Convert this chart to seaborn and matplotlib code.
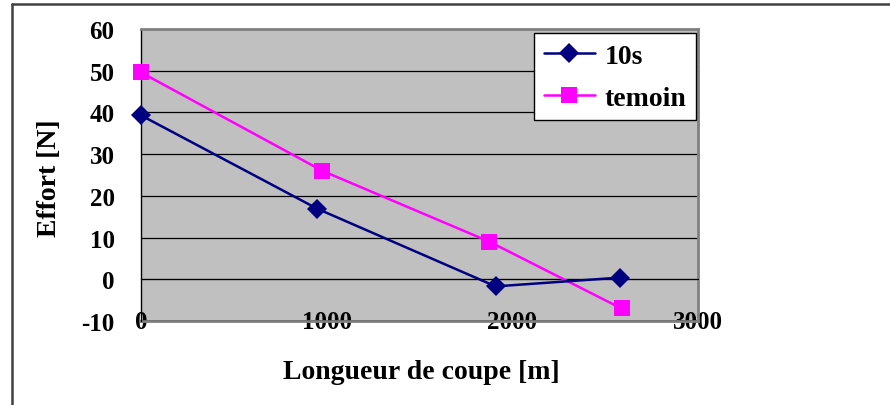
import matplotlib
matplotlib.use("Agg")
import matplotlib.pyplot as plt
import pandas as pd
import seaborn as sns
from matplotlib.lines import Line2D

# values
series_names = ["10s", "temoin"]
x_10s = [0, 950, 1910, 2578]
y_10s = [39.3, 16.9, -1.7, 0.4]
x_temoin = [0, 977, 1877, 2588]
y_temoin = [49.6, 26.0, 9.0, -7.0]
x_ticks = [0, 1000, 2000, 3000]
y_ticks = [-10, 0, 10, 20, 30, 40, 50, 60]

df = pd.concat([
    pd.DataFrame({"x": x_10s, "y": y_10s, "serie": "10s"}),
    pd.DataFrame({"x": x_temoin, "y": y_temoin, "serie": "temoin"}),
])

sns.set_style("white")
plt.rcParams["font.family"] = "Liberation Serif"
for k in ["text.color", "axes.labelcolor", "xtick.color", "ytick.color"]:
    plt.rcParams[k] = "black"
FONT = dict(family="Liberation Serif", weight="bold", color="black")

fig = plt.figure(figsize=(8.9, 4.06), dpi=100)
ax = fig.add_axes([141 / 890, 1 - 322 / 406, 557 / 890, 292 / 406])
ax.set_facecolor("#C0C0C0")

colors = {"10s": "#000080", "temoin": "#FF00FF"}
sns.lineplot(
    data=df[df["serie"] == "temoin"], x="x", y="y", color=colors["temoin"], marker="s",
    markersize=12, linewidth=1.8, markeredgewidth=0, clip_on=False, zorder=3, ax=ax,
)
sns.lineplot(
    data=df[df["serie"] == "10s"], x="x", y="y", color=colors["10s"], marker="D",
    markersize=10, linewidth=1.8, markeredgewidth=0, clip_on=False, zorder=3, ax=ax,
)

ax.set_xlim(0, 3000)
ax.set_ylim(-10, 60)
ax.set_yticks(y_ticks)
ax.set_yticklabels([str(v) for v in y_ticks], fontdict=dict(size=18, **FONT))
ax.yaxis.grid(True, color="black", linewidth=0.9)
ax.set_axisbelow(True)
ax.tick_params(axis="y", direction="out", length=9, width=1, color="black", pad=10)

# x axis crosses at y=0, labels stay at the bottom
ax.set_xticks(x_ticks)
ax.spines["bottom"].set_position(("data", 0))
ax.spines["bottom"].set_color("black")
ax.tick_params(axis="x", direction="inout", length=10, width=1, labelbottom=False)
sec = ax.secondary_xaxis("bottom")
sec.set_xticks(x_ticks)
sec.set_xticklabels([str(v) for v in x_ticks], fontdict=dict(size=18, **FONT))
sec.tick_params(length=0, pad=-8)
sec.spines["bottom"].set_color("#808080")
sec.spines["bottom"].set_linewidth(2)

ax.spines["left"].set_color("black")
ax.spines["left"].set_linewidth(1)
for s in ["top", "right"]:
    ax.spines[s].set_color("#808080")
    ax.spines[s].set_linewidth(2)

ax.set_xlabel("")
ax.set_ylabel("")
fig.text(50 / 890, 1 - 178 / 406, "Effort [N]", rotation=90, ha="center", va="center",
         size=20, **FONT)
fig.text(421 / 890, 1 - 373 / 406, "Longueur de coupe [m]", ha="center", va="center",
         size=20, **FONT)

handles = [
    Line2D([], [], color=colors["10s"], marker="D", markersize=10, linewidth=1.8, markeredgewidth=0),
    Line2D([], [], color=colors["temoin"], marker="s", markersize=12, linewidth=1.8, markeredgewidth=0),
]
leg = ax.legend(handles, series_names, loc="upper right", bbox_to_anchor=(0.997, 0.985),
                prop=dict(size=20, family="Liberation Serif", weight="bold"), frameon=True,
                fancybox=False, handlelength=1.85, handletextpad=0.35, borderpad=0.35,
                labelspacing=0.6, borderaxespad=0)
leg.set_zorder(5)
for t in leg.get_texts():
    t.set_color("black")
leg.get_frame().set_edgecolor("black")
leg.get_frame().set_linewidth(1)
leg.get_frame().set_facecolor("white")
leg.get_frame().set_alpha(1)

# outer border (top and left only visible)
fig.add_artist(Line2D([12 / 890, 1], [1 - 5 / 406, 1 - 5 / 406], transform=fig.transFigure,
                      color="#404040", linewidth=1.8))
fig.add_artist(Line2D([12 / 890, 12 / 890], [0, 1 - 5 / 406], transform=fig.transFigure,
                      color="#404040", linewidth=1.8))

fig.savefig("out.png", dpi=100)
